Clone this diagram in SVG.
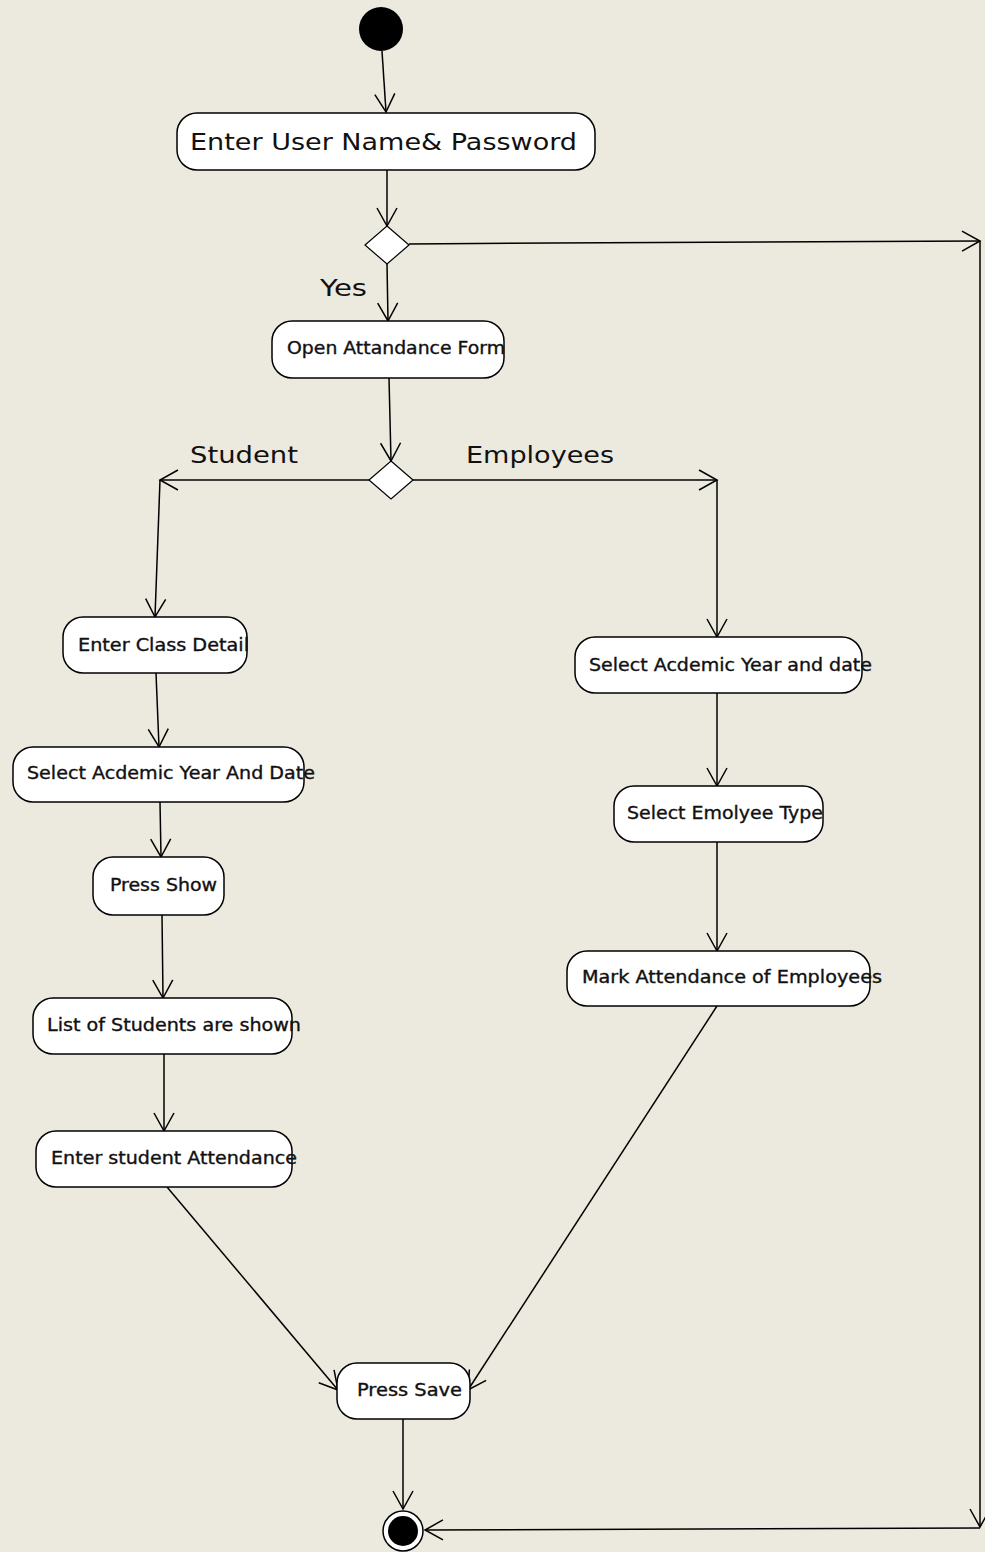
<svg xmlns="http://www.w3.org/2000/svg" width="985" height="1552" viewBox="0 0 985 1552">
  <style>
    .bg { fill: #ECE9DF; }
    .act { fill: #FFFFFF; stroke: #000000; stroke-width: 1.5; }
    .dec { fill: #FFFFFF; stroke: #000000; stroke-width: 1.2; }
    .lbl { font-family: "DejaVu Sans", "Liberation Sans", sans-serif; fill: #111111; }
    .big { font-size: 23px; }
    .sm { font-size: 17px; stroke: #111111; stroke-width: 0.35; }
    .edge { fill: none; stroke: #000000; stroke-width: 1.5; marker-end: url(#open); }
  </style>
  <defs>
    <marker id="open" viewBox="-20 -12 22 24" refX="0" refY="0" markerUnits="userSpaceOnUse" markerWidth="22" markerHeight="24" orient="auto">
      <path d="M-18,-10 L0,0 L-18,10" fill="none" stroke="#000000" stroke-width="1.5"/>
    </marker>
  </defs>

  <rect class="bg" x="0" y="0" width="985" height="1552"/>

  <!-- transitions -->
  <g id="connectors">
    <path class="edge" d="M382,51 L386,112"/>
    <path class="edge" d="M387,170 L387,226"/>
    <path class="edge" d="M409,244 L552,243 L980,241"/>
    <path class="edge" d="M980,241 L980,1527"/>
    <path class="edge" d="M980,1528 L425,1530"/>
    <path class="edge" d="M387,264 L388,321"/>
    <path class="edge" d="M389,378 L391,461"/>
    <path class="edge" d="M369,480 L160,480"/>
    <path class="edge" d="M160,480 L155,617"/>
    <path class="edge" d="M413,480 L717,480"/>
    <path class="edge" d="M717,480 L717,637"/>
    <path class="edge" d="M156,673 L159,747"/>
    <path class="edge" d="M160,802 L161,857"/>
    <path class="edge" d="M162,915 L163,998"/>
    <path class="edge" d="M164,1054 L164,1131"/>
    <path class="edge" d="M167,1187 L338,1390"/>
    <path class="edge" d="M717,693 L717,786"/>
    <path class="edge" d="M717,842 L717,951"/>
    <path class="edge" d="M717,1006 L468,1390"/>
    <path class="edge" d="M403,1419 L403,1509"/>
  </g>

  <!-- start -->
  <g id="initial">
    <circle cx="381" cy="29" r="22" fill="#000000"/>
  </g>

  <g id="login">
    <rect class="act" x="177" y="113" width="418" height="57" rx="20"/>
    <text class="lbl big" x="190" y="150" textLength="387" lengthAdjust="spacingAndGlyphs">Enter User Name&amp; Password</text>
  </g>

  <g id="validDecision">
    <polygon class="dec" points="387,226 409,245 387,264 365,245"/>
  </g>

  <g id="yesLabel">
    <text class="lbl big" x="320" y="296" textLength="47" lengthAdjust="spacingAndGlyphs">Yes</text>
  </g>

  <g id="openForm">
    <rect class="act" x="272" y="321" width="232" height="57" rx="20"/>
    <text class="lbl sm" x="287" y="354" textLength="218" lengthAdjust="spacingAndGlyphs">Open Attandance Form</text>
  </g>

  <g id="typeDecision">
    <polygon class="dec" points="391,461 413,480 391,499 369,480"/>
  </g>

  <g id="studentLabel">
    <text class="lbl big" x="190" y="463" textLength="108" lengthAdjust="spacingAndGlyphs">Student</text>
  </g>

  <g id="employeesLabel">
    <text class="lbl big" x="466" y="463" textLength="148" lengthAdjust="spacingAndGlyphs">Employees</text>
  </g>

  <g id="classDetail">
    <rect class="act" x="63" y="617" width="184" height="56" rx="20"/>
    <text class="lbl sm" x="78" y="651" textLength="171" lengthAdjust="spacingAndGlyphs">Enter Class Detail</text>
  </g>

  <g id="studentYearDate">
    <rect class="act" x="13" y="747" width="291" height="55" rx="20"/>
    <text class="lbl sm" x="27" y="779" textLength="288" lengthAdjust="spacingAndGlyphs">Select Acdemic Year And Date</text>
  </g>

  <g id="pressShow">
    <rect class="act" x="93" y="857" width="131" height="58" rx="20"/>
    <text class="lbl sm" x="110" y="891" textLength="107" lengthAdjust="spacingAndGlyphs">Press Show</text>
  </g>

  <g id="studentList">
    <rect class="act" x="33" y="998" width="259" height="56" rx="20"/>
    <text class="lbl sm" x="47" y="1031" textLength="254" lengthAdjust="spacingAndGlyphs">List of Students are shown</text>
  </g>

  <g id="studentAttendance">
    <rect class="act" x="36" y="1131" width="256" height="56" rx="20"/>
    <text class="lbl sm" x="51" y="1164" textLength="246" lengthAdjust="spacingAndGlyphs">Enter student Attendance</text>
  </g>

  <g id="employeeYearDate">
    <rect class="act" x="575" y="637" width="287" height="56" rx="20"/>
    <text class="lbl sm" x="589" y="671" textLength="283" lengthAdjust="spacingAndGlyphs">Select Acdemic Year and date</text>
  </g>

  <g id="employeeType">
    <rect class="act" x="614" y="786" width="209" height="56" rx="20"/>
    <text class="lbl sm" x="627" y="819" textLength="196" lengthAdjust="spacingAndGlyphs">Select Emolyee Type</text>
  </g>

  <g id="employeeAttendance">
    <rect class="act" x="567" y="951" width="303" height="55" rx="20"/>
    <text class="lbl sm" x="582" y="983" textLength="300" lengthAdjust="spacingAndGlyphs">Mark Attendance of Employees</text>
  </g>

  <g id="pressSave">
    <rect class="act" x="337" y="1363" width="133" height="56" rx="20"/>
    <text class="lbl sm" x="357" y="1396" textLength="105" lengthAdjust="spacingAndGlyphs">Press Save</text>
  </g>

  <!-- end -->
  <g id="final">
    <circle cx="403" cy="1531" r="20" fill="#FFFFFF" stroke="#000000" stroke-width="1.5"/>
    <circle cx="403" cy="1531" r="15" fill="#000000"/>
  </g>
</svg>
